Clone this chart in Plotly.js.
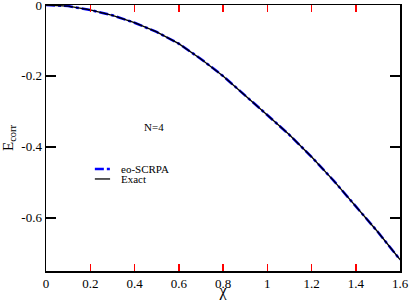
<!DOCTYPE html>
<html>
<head>
<meta charset="utf-8">
<script src="https://cdn.plot.ly/plotly-3.0.1.min.js"></script>
<style>html,body{margin:0;padding:0;background:#fff}#chart{width:409px;height:300px}</style>
</head>
<body>
<div id="chart"></div>
<script>
var chi = [0, 0.1, 0.2, 0.3, 0.4, 0.5, 0.6, 0.7, 0.8, 0.9, 1.0, 1.1, 1.2, 1.3, 1.4, 1.5, 1.6];
var eoSCRPA = [0, -0.003, -0.014, -0.029, -0.050, -0.076, -0.109, -0.152, -0.200, -0.254, -0.310, -0.366, -0.428, -0.495, -0.567, -0.640, -0.718];
var exact   = [0, -0.003, -0.014, -0.029, -0.050, -0.076, -0.109, -0.152, -0.200, -0.254, -0.310, -0.366, -0.428, -0.495, -0.567, -0.640, -0.718];
var seriesNames = ["eo-SCRPA", "Exact"];
var xTickVals = [0, 0.2, 0.4, 0.6, 0.8, 1, 1.2, 1.4, 1.6];
var xTickText = ["0", "0.2", "0.4", "0.6", "0.8", "1", "1.2", "1.4", "1.6"];
var yTickVals = [0, -0.2, -0.4, -0.6];
var yTickText = ["0", "-0.2", "-0.4", "-0.6"];
var annotationText = "N=4";

var font = "Liberation Serif";
var traces = [
  {x: chi, y: eoSCRPA, name: seriesNames[0], mode: "lines", showlegend: false,
   line: {color: "#0000ff", width: 2.5, dash: "dashdot"}},
  {x: chi, y: exact, name: seriesNames[1], mode: "lines", showlegend: false,
   line: {color: "#000000", width: 1.3}}
];
var layout = {
  width: 409, height: 300,
  margin: {l: 46, r: 9, t: 5, b: 29},
  paper_bgcolor: "#fff", plot_bgcolor: "#fff",
  showlegend: false,
  xaxis: {range: [0, 1.6], tickmode: "array", tickvals: xTickVals, ticktext: xTickText,
    ticks: "inside", ticklen: 7, tickwidth: 1.5, tickcolor: "red",
    showline: true, linecolor: "#000", linewidth: 1.5, mirror: "ticks", showgrid: false, zeroline: false,
    ticklabeloverflow: "allow",
    tickfont: {family: font, size: 13, color: "#000"},
    title: {text: "χ", font: {family: font, size: 16, color: "#000"}, standoff: 0}},
  yaxis: {range: [-0.75, 0], tickmode: "array", tickvals: yTickVals, ticktext: yTickText,
    ticks: "inside", ticklen: 10, tickwidth: 2, tickcolor: "black",
    showline: true, linecolor: "#000", linewidth: 1.5, mirror: "ticks", showgrid: false, zeroline: false,
    ticklabeloverflow: "allow",
    tickfont: {family: font, size: 13, color: "#000"},
    title: {text: "E<sub>corr</sub>", font: {family: font, size: 15, color: "#000"}, standoff: 4}},
  shapes: [
    {type: "line", xref: "paper", yref: "paper", x0: 0.138, x1: 0.183, y0: 0.383, y1: 0.383,
     line: {color: "#0000ff", width: 2.5, dash: "dashdot"}},
    {type: "line", xref: "paper", yref: "paper", x0: 0.138, x1: 0.181, y0: 0.346, y1: 0.346,
     line: {color: "#000", width: 1.3}}
  ],
  annotations: [
    {x: 0.271, y: 0.541, xref: "paper", yref: "paper", text: annotationText, showarrow: false,
     font: {family: font, size: 11, color: "#000"}},
    {x: 0.205, y: 0.383, xref: "paper", yref: "paper", xanchor: "left", text: seriesNames[0], showarrow: false,
     font: {family: font, size: 11, color: "#000"}},
    {x: 0.205, y: 0.346, xref: "paper", yref: "paper", xanchor: "left", text: seriesNames[1], showarrow: false,
     font: {family: font, size: 11, color: "#000"}}
  ]
};
Plotly.newPlot("chart", traces, layout, {displayModeBar: false, staticPlot: true});
</script>
</body>
</html>
